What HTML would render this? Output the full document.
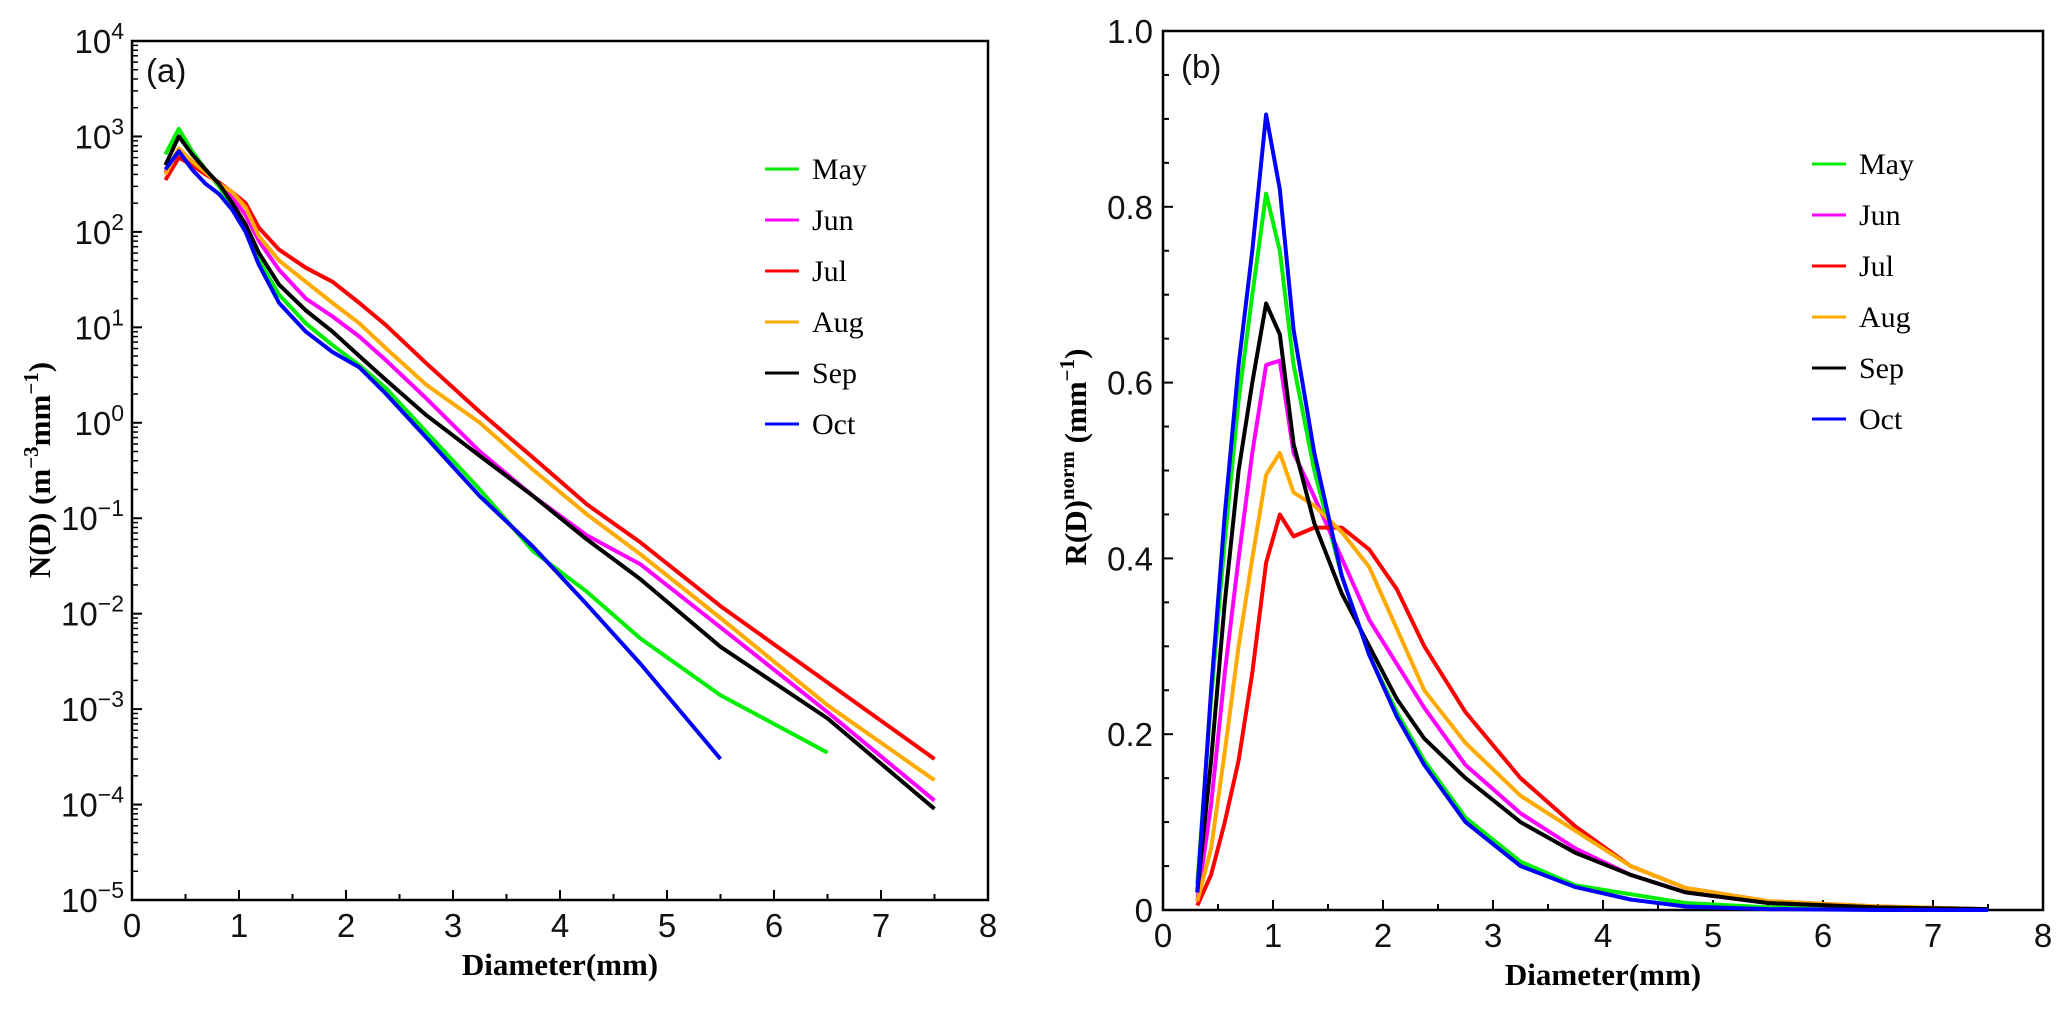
<!DOCTYPE html>
<html><head><meta charset="utf-8"><style>
html,body{margin:0;padding:0;background:#fff;}
svg{display:block;}
.tk{font-family:"Liberation Sans",sans-serif;font-size:33px;fill:#111;}
.lg{font-family:"Liberation Serif",serif;font-size:30px;fill:#000;}
.ti{font-family:"Liberation Serif",serif;font-size:31px;font-weight:bold;fill:#000;}
</style></head><body>
<svg id="c" width="2067" height="1011" viewBox="0 0 2067 1011" xmlns="http://www.w3.org/2000/svg"></svg>
<script>
const diam = [0.312,0.437,0.562,0.687,0.812,0.937,1.062,1.187,1.375,1.625,1.875,2.125,2.375,2.75,3.25,3.75,4.25,4.75,5.5,6.5,7.5];
const months = ["May","Jun","Jul","Aug","Sep","Oct"];
const colors = ["#00ee00","#ff00ff","#ff0000","#ffaa00","#000000","#0000ff"];
// Panel (a) N(D)
const ndMay = [650,1200,700,450,300,190,110,50,22,11,6.5,4,2.3,0.8,0.2,0.045,0.017,0.0055,0.0014,0.00035,null];
const ndJun = [420,700,520,420,320,230,150,80,40,20,13,8,4.5,1.8,0.5,0.17,0.066,0.033,0.0072,0.00093,0.00011];
const ndJul = [350,600,500,400,330,260,200,110,65,42,30,18,10.5,4.2,1.3,0.43,0.14,0.056,0.012,0.0019,0.0003];
const ndAug = [400,750,550,420,320,260,180,90,50,30,18,11,6,2.5,1.0,0.32,0.11,0.042,0.009,0.0011,0.00018];
const ndSep = [500,1000,650,450,320,200,120,60,28,15,9,5,2.8,1.2,0.45,0.17,0.06,0.023,0.0045,0.0008,0.00009];
const ndOct = [450,700,450,320,250,170,100,45,18,9,5.5,3.8,2.0,0.7,0.17,0.05,0.0125,0.003,0.0003,null,null];
// Panel (b) R(D) norm
const rdMay = [0.03,0.24,0.42,0.58,0.70,0.815,0.75,0.62,0.50,0.38,0.29,0.225,0.17,0.105,0.055,0.028,0.018,0.008,0.003,0.001,0];
const rdJun = [0.01,0.12,0.27,0.40,0.52,0.62,0.625,0.52,0.47,0.40,0.33,0.28,0.23,0.165,0.11,0.07,0.04,0.02,0.008,0.003,0.001];
const rdJul = [0.005,0.04,0.10,0.17,0.27,0.395,0.45,0.425,0.435,0.435,0.41,0.365,0.30,0.225,0.15,0.095,0.05,0.025,0.01,0.004,0.001];
const rdAug = [0.01,0.07,0.18,0.30,0.40,0.495,0.52,0.475,0.46,0.43,0.39,0.32,0.25,0.19,0.13,0.09,0.05,0.025,0.01,0.004,0.001];
const rdSep = [0.02,0.17,0.35,0.50,0.60,0.69,0.655,0.53,0.44,0.36,0.30,0.24,0.195,0.15,0.10,0.065,0.04,0.02,0.008,0.003,0.001];
const rdOct = [0.02,0.25,0.45,0.62,0.75,0.905,0.82,0.66,0.52,0.38,0.29,0.22,0.165,0.10,0.05,0.026,0.012,0.004,0.001,0,0];
const xTicks = [0,1,2,3,4,5,6,7,8];
const logTicks = [4,3,2,1,0,-1,-2,-3,-4,-5];
const linTicks = ["0","0.2","0.4","0.6","0.8","1.0"];

const NS="http://www.w3.org/2000/svg";
const svg=document.getElementById('c');
function mk(tag,attrs,parent){const e=document.createElementNS(NS,tag);for(const k in attrs)e.setAttribute(k,attrs[k]);(parent||svg).appendChild(e);return e;}

const A={x0:132,x1:988,y0:900,y1:41};
const ax=v=>A.x0+(v/8)*(A.x1-A.x0);
const ay=v=>A.y0-((Math.log10(v)+5)/9)*(A.y0-A.y1);
const B={x0:1163,x1:2043,y0:910,y1:31};
const bx=v=>B.x0+(v/8)*(B.x1-B.x0);
const by=v=>B.y0-v*(B.y0-B.y1);

function frame(P,name){
  const r=mk('rect',{x:P.x0,y:P.y1,width:P.x1-P.x0,height:P.y0-P.y1,fill:'none',stroke:'#000','stroke-width':2.5});
  
  
}
frame(A,'panel-a-frame');frame(B,'panel-b-frame');

function xAxis(P,fx,name){
  const g=mk('g',{});
  
  
  for(let i=0;i<=16;i++){const v=i/2;const x=fx(v);mk('line',{x1:x,x2:x,y1:P.y0,y2:P.y0-(i%2?6:10),stroke:'#000','stroke-width':2},g);}
  xTicks.forEach(v=>{const t=mk('text',{x:fx(v),y:P.y0+37,'text-anchor':'middle',class:'tk'},g);t.textContent=v;});
}
xAxis(A,ax,'x-axis-a');xAxis(B,bx,'x-axis-b');

const ga=mk('g',{});


logTicks.forEach(e=>{
  const y=ay(Math.pow(10,e));
  mk('line',{x1:A.x0,x2:A.x0+10,y1:y,y2:y,stroke:'#000','stroke-width':2},ga);
  if(e<4){for(let m=2;m<=9;m++){const yy=ay(m*Math.pow(10,e));mk('line',{x1:A.x0,x2:A.x0+6,y1:yy,y2:yy,stroke:'#000','stroke-width':1.5},ga);}}
  const t=mk('text',{x:A.x0-8,y:y+12,'text-anchor':'end',class:'tk'},ga);
  const t1=mk('tspan',{},t);t1.textContent='10';
  const t2=mk('tspan',{dy:-14,'font-size':'23px'},t);t2.textContent=(e<0?'\u2212'+(-e):String(e));
});
const gb=mk('g',{});


for(let i=0;i<=20;i++){const y=by(i*0.05);mk('line',{x1:B.x0,x2:B.x0+(i%4?6:10),y1:y,y2:y,stroke:'#000','stroke-width':2},gb);}
linTicks.forEach(s=>{const t=mk('text',{x:B.x0-10,y:by(parseFloat(s))+12,'text-anchor':'end',class:'tk'},gb);t.textContent=s;});

function title(x,y,name,rot){
  const t=mk('text',{x:x,y:y,'text-anchor':'middle',class:'ti'});
  if(rot)t.setAttribute('transform','rotate(-90 '+x+' '+y+')');
  
  
  return t;
}
title(560,975,'x-axis-title-a').textContent='Diameter(mm)';
title(1603,985,'x-axis-title-b').textContent='Diameter(mm)';
let ya=title(50,470,'y-axis-title-a',true);
ya.innerHTML='N(D) (m<tspan dy="-12" font-size="21px">\u22123</tspan><tspan dy="12">mm</tspan><tspan dy="-12" font-size="21px">\u22121</tspan><tspan dy="12">)</tspan>';
let yb=title(1086,457,'y-axis-title-b',true);
yb.innerHTML='R(D)<tspan dy="-12" font-size="21px">norm</tspan><tspan dy="12"> (mm</tspan><tspan dy="-12" font-size="21px">\u22121</tspan><tspan dy="12">)</tspan>';

const la=mk('text',{x:146,y:82,class:'tk'});la.textContent='(a)';


const lb=mk('text',{x:1181,y:78,class:'tk'});lb.textContent='(b)';



const ndSeries=[ndMay,ndJun,ndJul,ndAug,ndSep,ndOct];
const rdSeries=[rdMay,rdJun,rdJul,rdAug,rdSep,rdOct];
function line(arr,fx,fy,col,name){
  let d='';arr.forEach((v,i)=>{if(v===null)return;d+=(d?'L':'M')+fx(diam[i]).toFixed(1)+','+fy(v).toFixed(1);});
  const p=mk('path',{d:d,fill:'none',stroke:col,'stroke-width':4,'stroke-linejoin':'round'});
  
  
}
ndSeries.forEach((s,i)=>line(s,ax,ay,colors[i],'line-a-'+months[i].toLowerCase()));
rdSeries.forEach((s,i)=>line(s,bx,by,colors[i],'line-b-'+months[i].toLowerCase()));

function legend(lx,ly0,name){
  const g=mk('g',{});
  
  
  months.forEach((m,i)=>{
    const y=ly0+i*51;
    const e=mk('g',{},g);
    
    
    mk('line',{x1:lx,x2:lx+34,y1:y,y2:y,stroke:colors[i],'stroke-width':3},e);
    const t=mk('text',{x:lx+47,y:y+10,class:'lg'},e);t.textContent=m;
  });
}
legend(765,169,'legend-a');legend(1812,164,'legend-b');
</script>
</body></html>
